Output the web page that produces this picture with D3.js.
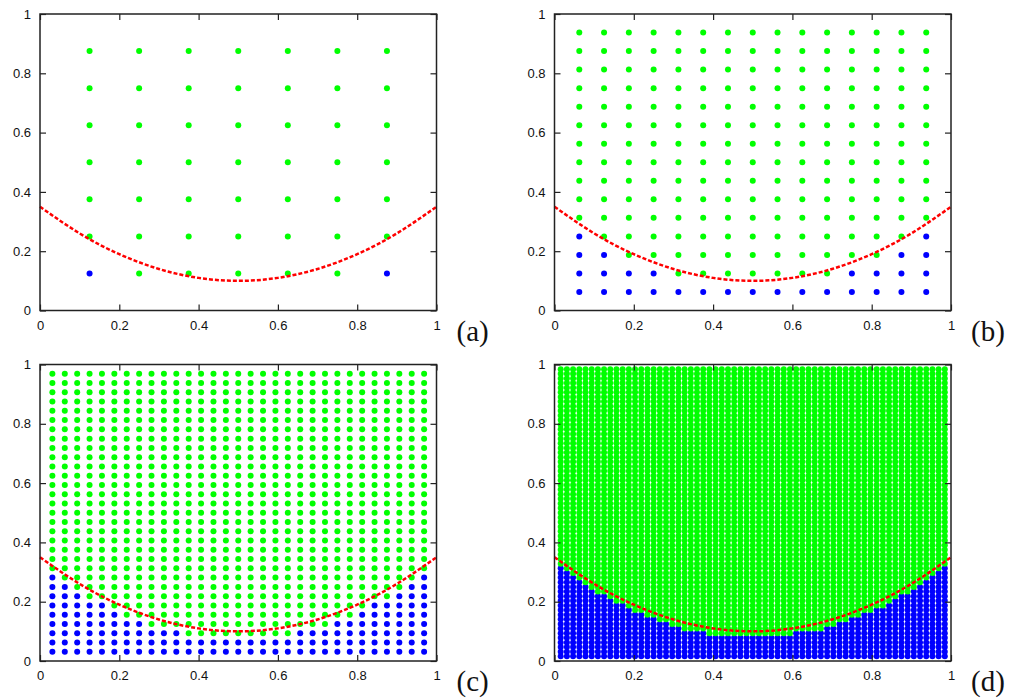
<!DOCTYPE html>
<html>
<head>
<meta charset="utf-8">
<script src="https://cdnjs.cloudflare.com/ajax/libs/d3/7.8.5/d3.min.js"></script>
<style>
body { margin: 0; background: #fff; }
</style>
</head>
<body>
<svg id="chart" width="1013" height="700"></svg>
<script>
var panelNames = ["(a)", "(b)", "(c)", "(d)"];
var gridSizes = [8, 16, 32, 64];

// number of blue points in each column, counted from the bottom row
var blueA = [1, 0, 0, 0, 0, 0, 1];
var blueB = [4, 3, 2, 2, 1, 1, 1, 1, 1, 1, 1, 2, 2, 3, 4];
var blueC = [9, 8, 7, 6, 6, 5, 4, 4, 3, 3, 3, 2, 2, 2, 2, 2, 2, 2, 2, 2,
	3, 3, 3, 4, 4, 5, 6, 6, 7, 8, 9];
var blueD = [20, 19, 18, 17, 16, 15, 14, 14, 13, 12, 12, 11, 10, 10, 9, 9, 8, 8, 7, 7, 6, 6, 6, 6,
	5, 5, 5, 5, 5, 5, 5, 5, 5, 5, 5, 5, 5, 5,
	6, 6, 6, 6, 6, 7, 7, 8, 8, 9, 9, 10, 10, 11, 11, 12, 13, 14, 14, 15, 16, 17, 18, 19, 20];

// red dashed boundary
var curveX = [0, 0.1, 0.2, 0.3, 0.4, 0.5, 0.6, 0.7, 0.8, 0.9, 1];
var curveY = [0.35, 0.26, 0.19, 0.14, 0.11, 0.10, 0.11, 0.14, 0.19, 0.26, 0.35];

var tickValues = [0, 0.2, 0.4, 0.6, 0.8, 1];

var blueColor = "#0000ff";
var greenColor = "#00ff00";

function appendPanel(id, left, top, width, height, n, blueCounts, label) {

	var x = d3.scaleLinear().domain([0, 1]).range([left, left + width]);
	var y = d3.scaleLinear().domain([0, 1]).range([top + height, top]);

	var panel = d3.select(id).append("g");

	var points = [];
	for (var i = 1; i < n; i++) {
		for (var k = 1; k < n; k++) {
			points.push({ x: i / n, y: k / n, blue: k <= blueCounts[i - 1] });
		}
	}

	panel.append("g")
	.selectAll("circle")
	.data(points)
	.enter()
	.append("circle")
	.attr("cx", function (d) { return x(d.x); })
	.attr("cy", function (d) { return y(d.y); })
	.attr("r", 3)
	.style("fill", function (d) { return d.blue ? blueColor : greenColor; });

	var line = d3.line()
	.x(function (d, i) { return x(curveX[i]); })
	.y(function (d) { return y(d); })
	.curve(d3.curveNatural);

	panel.append("path")
	.attr("d", line(curveY))
	.style("fill", "none")
	.style("stroke", "#ff0000")
	.style("stroke-width", 2.5)
	.style("stroke-dasharray", "4,2");

	var fmt = d3.format("~g");

	var bottomAxis = panel.append("g")
	.attr("transform", "translate(0," + (top + height) + ")")
	.call(d3.axisBottom(x).tickValues(tickValues).tickFormat(fmt).tickSize(-6).tickPadding(10));

	var leftAxis = panel.append("g")
	.attr("transform", "translate(" + left + ",0)")
	.call(d3.axisLeft(y).tickValues(tickValues).tickFormat(fmt).tickSize(-6).tickPadding(9));

	panel.append("g")
	.attr("transform", "translate(0," + top + ")")
	.call(d3.axisTop(x).tickValues(tickValues).tickFormat("").tickSize(-6));

	panel.append("g")
	.attr("transform", "translate(" + (left + width) + ",0)")
	.call(d3.axisRight(y).tickValues(tickValues).tickFormat("").tickSize(-6));

	panel.selectAll(".domain").remove();
	panel.selectAll(".tick line")
	.style("stroke", "#222")
	.style("stroke-width", 1.2);
	panel.selectAll(".tick text")
	.style("fill", "#111")
	.style("font-family", "'Liberation Sans', Arial, sans-serif")
	.style("font-size", "13px");

	panel.append("rect")
	.attr("x", left)
	.attr("y", top)
	.attr("width", width)
	.attr("height", height)
	.style("fill", "none")
	.style("stroke", "#222")
	.style("stroke-width", 1.5);

	panel.append("text")
	.attr("x", left + width + 20)
	.attr("y", top + height + 30)
	.style("font-family", "'Liberation Serif', 'DejaVu Serif', serif")
	.style("font-size", "29px")
	.style("fill", "#111")
	.text(label);
}

var lefts = [40, 554.5, 40, 554.5];
var tops = [14, 14, 364.5, 364.5];
var blueSets = [blueA, blueB, blueC, blueD];

for (var p = 0; p < 4; p++) {
	appendPanel("#chart", lefts[p], tops[p], 396.5, 296.5, gridSizes[p], blueSets[p], panelNames[p]);
}
</script>
</body>
</html>
